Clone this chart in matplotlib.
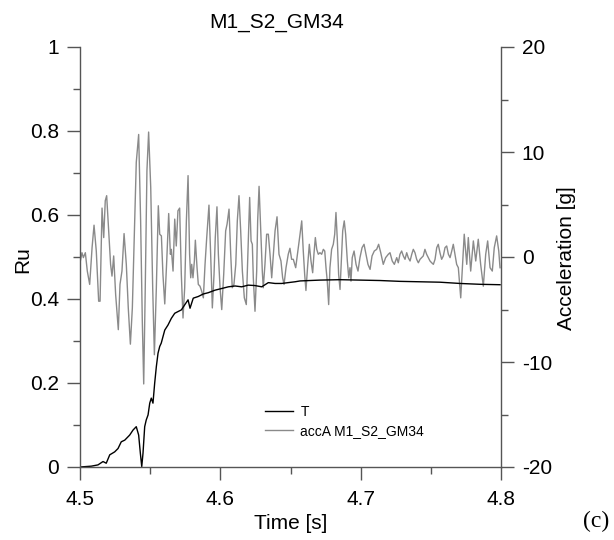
import matplotlib
matplotlib.use("Agg")
import matplotlib.pyplot as plt
from matplotlib.ticker import MultipleLocator

plt.rcParams['font.family'] = ['Liberation Sans', 'DejaVu Sans']
plt.rcParams['axes.unicode_minus'] = False

# --- data ---
acc_time = [4.5000, 4.5014, 4.5024, 4.5038, 4.5052, 4.5069, 4.5086, 4.5100, 4.5116, 4.5133,
            4.5143, 4.5157, 4.5169, 4.5180, 4.5190, 4.5204, 4.5218, 4.5228, 4.5240, 4.5254,
            4.5273, 4.5285, 4.5299, 4.5314, 4.5330, 4.5344, 4.5359, 4.5373, 4.5390, 4.5401,
            4.5418, 4.5432, 4.5444, 4.5454, 4.5465, 4.5477, 4.5489, 4.5504, 4.5518, 4.5530,
            4.5544, 4.5558, 4.5568, 4.5580, 4.5591, 4.5604, 4.5618, 4.5632, 4.5644, 4.5651,
            4.5663, 4.5675, 4.5686, 4.5698, 4.5710, 4.5722, 4.5734, 4.5746, 4.5758, 4.5770,
            4.5781, 4.5789, 4.5796, 4.5805, 4.5815, 4.5822, 4.5834, 4.5843, 4.5855, 4.5867,
            4.5879, 4.5891, 4.5903, 4.5919, 4.5931, 4.5943, 4.5955, 4.5964, 4.5976, 4.5986,
            4.5998, 4.6010, 4.6024, 4.6038, 4.6048, 4.6062, 4.6074, 4.6085, 4.6097, 4.6110,
            4.6121, 4.6133, 4.6145, 4.6157, 4.6171, 4.6185, 4.6195, 4.6209, 4.6219, 4.6228,
            4.6235, 4.6247, 4.6259, 4.6266, 4.6276, 4.6288, 4.6299, 4.6306, 4.6318, 4.6330,
            4.6342, 4.6354, 4.6366, 4.6378, 4.6390, 4.6404, 4.6418, 4.6432, 4.6444, 4.6454,
            4.6468, 4.6484, 4.6496, 4.6508, 4.6520, 4.6537, 4.6556, 4.6568, 4.6580, 4.6591,
            4.6601, 4.6610, 4.6623, 4.6634, 4.6646, 4.6658, 4.6667, 4.6677, 4.6687, 4.6698,
            4.6710, 4.6722, 4.6734, 4.6744, 4.6753, 4.6762, 4.6772, 4.6781, 4.6793, 4.6805,
            4.6815, 4.6824, 4.6834, 4.6843, 4.6853, 4.6862, 4.6872, 4.6883, 4.6893, 4.6905,
            4.6915, 4.6924, 4.6931, 4.6940, 4.6953, 4.6967, 4.6981, 4.6995, 4.7010, 4.7024,
            4.7038, 4.7052, 4.7067, 4.7081, 4.7097, 4.7114, 4.7128, 4.7143, 4.7161, 4.7178,
            4.7197, 4.7209, 4.7225, 4.7240, 4.7257, 4.7268, 4.7280, 4.7292, 4.7304, 4.7316,
            4.7328, 4.7339, 4.7352, 4.7364, 4.7375, 4.7387, 4.7399, 4.7411, 4.7423, 4.7435,
            4.7446, 4.7458, 4.7470, 4.7482, 4.7494, 4.7506, 4.7518, 4.7530, 4.7542, 4.7553,
            4.7565, 4.7577, 4.7589, 4.7601, 4.7613, 4.7625, 4.7637, 4.7649, 4.7660, 4.7672,
            4.7684, 4.7696, 4.7713, 4.7738, 4.7756, 4.7767, 4.7784, 4.7803, 4.7820, 4.7838,
            4.7855, 4.7874, 4.7891, 4.7905, 4.7922, 4.7938, 4.7952, 4.7969, 4.7984, 4.7993]
acc_values = [-0.55, 0.41, -0.06, 0.41, -1.34, -2.61, 0.89, 3.03, 0.57, -4.21,
              -4.21, 4.66, 1.85, 5.36, 5.84, 2.49, -0.70, -1.82, 0.10, -3.57,
              -6.92, -2.61, -1.34, 2.23, -0.70, -4.85, -8.30, -4.85, 3.44, 9.02,
              11.67, 3.44, -6.12, -12.09, -2.93, 8.23, 11.90, 6.63, -2.93, -9.31,
              -2.93, 4.88, 2.17, 2.01, -1.66, -4.47, -0.38, 4.14, 0.26, 0.73,
              -1.34, 3.61, 1.05, 4.40, 4.66, -1.66, -5.81, -2.93, 3.44, 7.75,
              0.26, -1.98, -0.70, -1.98, -0.38, 1.60, -1.02, -2.61, -2.78, -3.25,
              -3.89, -0.70, 1.85, 4.94, 0.26, -4.85, -1.66, 1.85, 4.78, 0.26,
              -2.93, -5.01, -1.66, 2.49, 3.13, 4.56, 0.26, -2.93, -2.61, -0.70,
              3.44, 5.84, 2.49, -1.34, -3.89, -4.53, -0.38, 5.67, 1.53, 1.21,
              -1.98, -5.17, -1.34, 3.44, 6.73, 2.49, -1.34, -2.93, -0.70, 2.17,
              2.17, 0.26, -1.98, 0.26, 2.49, 3.83, 0.26, -0.38, -1.98, -2.61,
              -1.02, 0.26, 0.83, -0.22, -0.22, -1.02, 0.89, 2.17, 3.44, 0.57,
              -1.66, -3.19, -0.70, 1.21, -0.38, -1.50, 0.26, 1.85, 0.73, 0.26,
              0.41, 0.26, 0.73, 0.57, -1.02, -2.30, -4.53, -1.02, 0.73, 1.21,
              2.17, 4.24, 1.53, -1.66, -3.09, -0.38, 2.49, 3.44, 2.17, -0.38,
              -1.98, -1.02, -2.30, -0.06, 0.57, -0.70, -1.34, -0.06, 0.89, 1.21,
              0.26, -0.70, -1.18, 0.10, 0.57, 0.73, 1.21, 0.41, -0.70, -0.06,
              0.26, 0.41, -0.38, -0.70, -0.06, -0.55, 0.26, 0.57, 0.10, -0.22,
              0.41, -0.06, -0.38, 0.26, 0.73, 0.41, -0.22, -0.55, -0.22, -0.06,
              0.10, 0.73, 0.26, -0.06, -0.38, -0.55, -0.70, -0.22, 0.89, 1.21,
              0.41, -0.22, 0.10, 0.89, 1.05, 0.26, -0.06, 0.57, 1.21, 0.26,
              -0.70, -1.02, -3.89, 2.17, -0.70, 1.85, -1.34, 1.53, -0.38, 1.69,
              -0.70, -2.78, 0.26, 1.53, -1.02, -1.34, 0.89, 2.01, 0.57, -1.02]

ru_time = [4.5000, 4.5081, 4.5128, 4.5164, 4.5187, 4.5212, 4.5247, 4.5271, 4.5294, 4.5319,
           4.5354, 4.5378, 4.5401, 4.5418, 4.5430, 4.5440, 4.5449, 4.5461, 4.5472, 4.5485,
           4.5497, 4.5508, 4.5520, 4.5532, 4.5544, 4.5556, 4.5568, 4.5579, 4.5591, 4.5604,
           4.5627, 4.5651, 4.5675, 4.5698, 4.5722, 4.5746, 4.5770, 4.5784, 4.5807, 4.5843,
           4.5879, 4.5914, 4.5962, 4.6010, 4.6057, 4.6105, 4.6152, 4.6199, 4.6247, 4.6295,
           4.6342, 4.6390, 4.6437, 4.6484, 4.6532, 4.6568, 4.6710, 4.6853, 4.6995, 4.7138,
           4.7280, 4.7423, 4.7565, 4.7708, 4.7850, 4.7993]
ru_values = [0.000, 0.002, 0.005, 0.013, 0.009, 0.029, 0.036, 0.044, 0.060, 0.064,
             0.076, 0.088, 0.096, 0.076, 0.033, 0.001, 0.033, 0.096, 0.112, 0.124,
             0.152, 0.164, 0.152, 0.199, 0.239, 0.271, 0.287, 0.295, 0.310, 0.326,
             0.338, 0.354, 0.366, 0.370, 0.374, 0.386, 0.398, 0.378, 0.402, 0.406,
             0.412, 0.415, 0.421, 0.425, 0.429, 0.431, 0.429, 0.433, 0.432, 0.429,
             0.439, 0.437, 0.437, 0.439, 0.441, 0.443, 0.445, 0.446, 0.445, 0.444,
             0.442, 0.441, 0.440, 0.437, 0.435, 0.434]

title = "M1_S2_GM34"
ru_label = "T"
acc_label = "accA M1_S2_GM34"

W, H = 614, 540
fig = plt.figure(figsize=(W / 100, H / 100), dpi=100)
ax1 = fig.add_axes([80 / W, 1 - 467 / H, 421 / W, 420 / H])
ax2 = ax1.twinx()

spine_c = '#555555'
gray = '#8a8a8a'

l2, = ax2.plot(acc_time, acc_values, color=gray, lw=1.0, label=acc_label)
l1, = ax1.plot(ru_time, ru_values, color='black', lw=1.0, label=ru_label)
ax1.set_zorder(ax2.get_zorder() + 1)
ax1.patch.set_visible(False)

ax1.set_xlim(4.5, 4.8)
ax1.set_ylim(0, 1)
ax2.set_ylim(-20, 20)

ax1.xaxis.set_minor_locator(MultipleLocator(0.05))
ax1.yaxis.set_minor_locator(MultipleLocator(0.1))
ax2.yaxis.set_major_locator(MultipleLocator(10))
ax2.yaxis.set_minor_locator(MultipleLocator(5))
ax1.set_xticks([4.5, 4.6, 4.7, 4.8])
ax1.set_xticklabels(['4.5', '4.6', '4.7', '4.8'])
ax1.set_yticks([0, 0.2, 0.4, 0.6, 0.8, 1.0])
ax1.set_yticklabels(['0', '0.2', '0.4', '0.6', '0.8', '1'])

for ax in (ax1, ax2):
    ax.spines['top'].set_visible(False)
    for s in ('left', 'right', 'bottom'):
        ax.spines[s].set_color(spine_c)
        ax.spines[s].set_linewidth(1.0)
    ax.tick_params(which='major', direction='out', length=9.5, width=1.0,
                   color=spine_c, labelsize=15, pad=5.5)
    ax.tick_params(which='minor', direction='out', length=5, width=1.0, color=spine_c)
ax1.tick_params(axis='x', which='major', pad=7)
ax1.spines['right'].set_visible(False)
ax2.spines['left'].set_visible(False)
ax2.spines['bottom'].set_visible(False)

ax1.set_xlabel("Time [s]", fontsize=15, labelpad=4)
ax1.set_ylabel("Ru", fontsize=15)
ax2.set_ylabel("Acceleration [g]", fontsize=15)
ax1.yaxis.set_label_coords(-0.114, 0.493)
ax2.yaxis.set_label_coords(1.133, 0.498)

fig.text(277 / W, 1 - 22 / H, title, fontsize=15, ha='center', va='center')
fig.text(596 / W, 1 - 521 / H, "(c)", fontsize=17, ha='center', va='center',
         family=['Liberation Serif', 'DejaVu Serif'])

leg = ax1.legend([l1, l2], [ru_label, acc_label], loc='upper left',
                 bbox_to_anchor=(265 / W, 1 - 405 / H), bbox_transform=fig.transFigure,
                 frameon=False, fontsize=10, handlelength=2.0, handletextpad=0.55,
                 labelspacing=0.35, borderpad=0, borderaxespad=0)

fig.savefig("out.png", dpi=100)
